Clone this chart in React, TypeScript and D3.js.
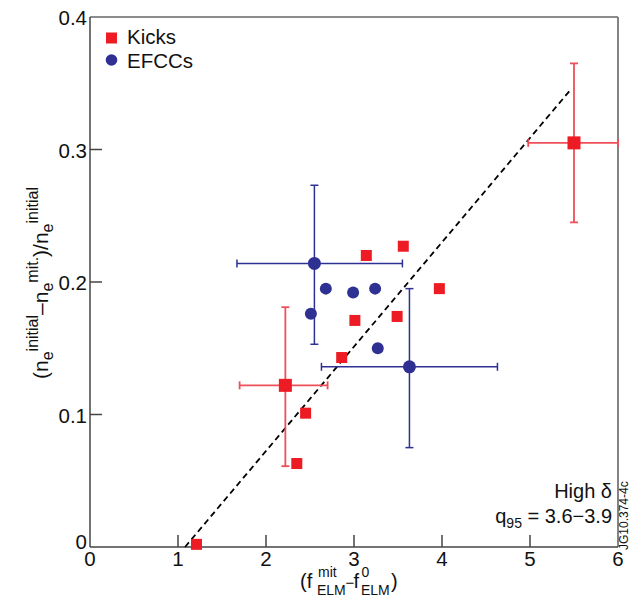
import React from "react";
import * as d3 from "d3";

// Kicks (red squares)
const kicksX = [1.21, 2.35, 2.45, 2.22, 2.86, 3.01, 3.14, 3.49, 3.56, 3.97, 5.5];
const kicksY = [0.002, 0.063, 0.101, 0.122, 0.143, 0.171, 0.22, 0.174, 0.227, 0.195, 0.305];
// EFCCs (blue circles)
const efccX = [2.55, 2.68, 2.99, 3.24, 2.51, 3.27, 3.63];
const efccY = [0.214, 0.195, 0.192, 0.195, 0.176, 0.15, 0.136];

// error bars
const kickErrors = [
  { x: 2.22, y: 0.122, xlo: 1.7, xhi: 2.7, ylo: 0.061, yhi: 0.181 },
  { x: 5.5, y: 0.305, xlo: 4.98, xhi: 6.0, ylo: 0.245, yhi: 0.365 },
];
const efccErrors = [
  { x: 2.55, y: 0.214, xlo: 1.67, xhi: 3.55, ylo: 0.153, yhi: 0.273 },
  { x: 3.63, y: 0.136, xlo: 2.63, xhi: 4.63, ylo: 0.075, yhi: 0.195 },
];

// dashed fit line
const fitX = [1.08, 5.46];
const fitY = [0.0, 0.345];

const xTicks = [0, 1, 2, 3, 4, 5, 6];
const yTicks = [0, 0.1, 0.2, 0.3, 0.4];

const RED = "#ed1c24";
const RED_BAR = "#ef4f58";
const BLUE = "#2e3192";
const FONT = "Liberation Sans, Arial, Helvetica, sans-serif";

function ErrorBar({ e, x, y, color, width }) {
  const cap = 4;
  return (
    <g stroke={color} strokeWidth={width} fill="none">
      <line x1={x(e.xlo)} x2={x(e.xhi)} y1={y(e.y)} y2={y(e.y)} />
      <line x1={x(e.x)} x2={x(e.x)} y1={y(e.ylo)} y2={y(e.yhi)} />
      <line x1={x(e.xlo)} x2={x(e.xlo)} y1={y(e.y) - cap} y2={y(e.y) + cap} />
      <line x1={x(e.xhi)} x2={x(e.xhi)} y1={y(e.y) - cap} y2={y(e.y) + cap} />
      <line x1={x(e.x) - cap} x2={x(e.x) + cap} y1={y(e.ylo)} y2={y(e.ylo)} />
      <line x1={x(e.x) - cap} x2={x(e.x) + cap} y1={y(e.yhi)} y2={y(e.yhi)} />
    </g>
  );
}

export default function App() {
  const width = 641;
  const height = 601;
  const x = d3.scaleLinear().domain([0, 6]).range([90, 618]);
  const y = d3.scaleLinear().domain([0, 0.4]).range([547, 17]);
  const fmt = (v) => (v === 0 ? "0" : d3.format(".1f")(v));

  return (
    <svg
      width={width}
      height={height}
      style={{ position: "absolute", left: 0, top: 0, background: "#fff" }}
      fontFamily={FONT}
    >
      {/* frame */}
      <line x1={x(0)} x2={x(6)} y1={y(0.4)} y2={y(0.4)} stroke="#666" strokeWidth={1.5} />
      <line x1={x(6)} x2={x(6)} y1={y(0.4)} y2={y(0)} stroke="#777" strokeWidth={1.8} />
      <line x1={x(0)} x2={x(0)} y1={y(0.4)} y2={y(0)} stroke="#444" strokeWidth={1.5} />
      <line x1={x(0)} x2={x(6)} y1={y(0)} y2={y(0)} stroke="#444" strokeWidth={1.5} />

      {/* y ticks */}
      {yTicks.map((t) => (
        <g key={"y" + t}>
          {t > 0 && t < 0.4 && (
            <line x1={x(0)} x2={x(0) + 12} y1={y(t)} y2={y(t)} stroke="#444" strokeWidth={1.5} />
          )}
          <text
            x={87}
            y={y(t) + (t === 0 ? 2 : 8)}
            textAnchor="end"
            fontSize={20.5}
            fill="#111"
          >
            {fmt(t)}
          </text>
        </g>
      ))}

      {/* x ticks */}
      {xTicks.map((t) => (
        <g key={"x" + t}>
          {t > 0 && t < 6 && (
            <line x1={x(t)} x2={x(t)} y1={y(0)} y2={y(0) - 12} stroke="#444" strokeWidth={1.5} />
          )}
          <text x={x(t)} y={566} textAnchor="middle" fontSize={20.5} fill="#111">
            {t}
          </text>
        </g>
      ))}

      {/* fit line */}
      <line
        x1={x(fitX[0])}
        y1={y(fitY[0])}
        x2={x(fitX[1])}
        y2={y(fitY[1])}
        stroke="#000"
        strokeWidth={1.8}
        strokeDasharray="6,4"
      />

      {/* error bars */}
      {kickErrors.map((e, i) => (
        <ErrorBar key={"ke" + i} e={e} x={x} y={y} color={RED_BAR} width={1.8} />
      ))}
      {efccErrors.map((e, i) => (
        <ErrorBar key={"ee" + i} e={e} x={x} y={y} color={BLUE} width={1.5} />
      ))}

      {/* kicks */}
      {kicksX.map((v, i) => {
        const big = i === 3 || i === 10;
        const s = big ? 13 : 11;
        return (
          <rect
            key={"k" + i}
            x={x(v) - s / 2}
            y={y(kicksY[i]) - s / 2}
            width={s}
            height={s}
            fill={RED}
          />
        );
      })}

      {/* EFCCs */}
      {efccX.map((v, i) => {
        const big = i === 0 || i === 6;
        return <circle key={"e" + i} cx={x(v)} cy={y(efccY[i])} r={big ? 6.5 : 6} fill={BLUE} />;
      })}

      {/* legend */}
      <rect x={106} y={32.5} width={11} height={11} fill={RED} />
      <text x={127} y={43.5} fontSize={20.5} fill="#111">Kicks</text>
      <circle cx={111.5} cy={60} r={5.8} fill={BLUE} />
      <text x={127} y={68} fontSize={20.5} fill="#111">EFCCs</text>

      {/* annotations */}
      <text x={612} y={498} textAnchor="end" fontSize={20} fill="#111">High δ</text>
      <text x={612} y={523} textAnchor="end" fontSize={20} fill="#111">
        q<tspan fontSize={14} dy={5}>95</tspan>
        <tspan dy={-5}> = 3.6−3.9</tspan>
      </text>
      <text
        transform="translate(628,550) rotate(-90)"
        fontSize={12}
        fill="#111"
      >
        JG10.374-4c
      </text>

      {/* x label */}
      <g fontSize={20} fill="#111">
        <text x={300} y={588}>(f</text>
        <text x={318} y={577} fontSize={14}>mit</text>
        <text x={317} y={595} fontSize={14}>ELM</text>
        <text x={345.5} y={588} fontSize={15}>−</text>
        <text x={353.5} y={588}>f</text>
        <text x={361.5} y={577} fontSize={14}>0</text>
        <text x={361} y={595} fontSize={14}>ELM</text>
        <text x={391} y={588}>)</text>
      </g>

      {/* y label */}
      <text
        transform="translate(48,283) rotate(-90)"
        textAnchor="middle"
        fontSize={21}
        fill="#111"
      >
        (n
        <tspan fontSize={16} dy={5}>e</tspan>
        <tspan fontSize={16} dy={-15}>initial</tspan>
        <tspan dy={10}>–n</tspan>
        <tspan fontSize={16} dy={5}>e</tspan>
        <tspan fontSize={16} dy={-15}>mit.</tspan>
        <tspan dy={10}>)/n</tspan>
        <tspan fontSize={16} dy={5}>e</tspan>
        <tspan fontSize={16} dy={-15}>initial</tspan>
      </text>
    </svg>
  );
}
